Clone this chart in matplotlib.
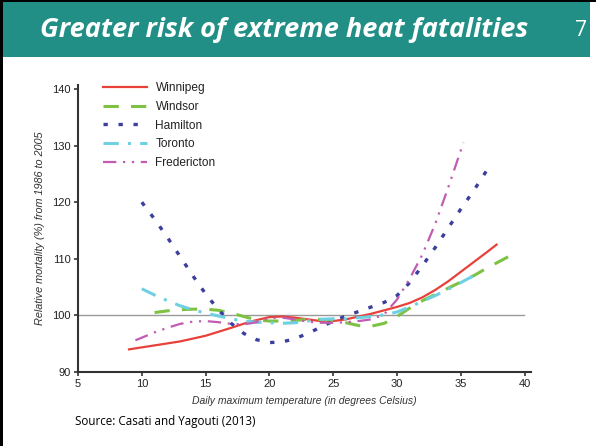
import matplotlib
matplotlib.use("Agg")
import matplotlib.pyplot as plt
from matplotlib.patches import Rectangle

# temperature (deg C) and relative mortality (%)
winnipeg_t = [9, 11, 13, 15, 17, 18.5, 20, 21, 22, 23, 24, 25, 26, 27, 28, 29, 30, 31, 32, 33, 34, 35, 36, 37, 37.8]
winnipeg_v = [94.0, 94.7, 95.4, 96.4, 97.8, 98.9, 99.7, 99.8, 99.6, 99.3, 99.0, 99.0, 99.3, 99.8, 100.3, 100.9, 101.5, 102.2, 103.2, 104.5, 106.0, 107.7, 109.4, 111.1, 112.5]

windsor_t = [11, 12, 13, 14, 15, 16, 17, 18, 19, 20, 21, 22, 23, 24, 25, 26, 27, 28, 29, 30, 31, 32, 33, 34, 35, 36, 37, 38, 39]
windsor_v = [100.5, 100.8, 101.0, 101.1, 101.1, 100.9, 100.4, 99.8, 99.2, 99.0, 99.0, 99.1, 99.3, 99.3, 99.1, 98.7, 98.2, 98.1, 98.6, 99.8, 101.3, 102.6, 103.7, 104.8, 105.9, 107.0, 108.3, 109.5, 110.7]

hamilton_t = [10, 11, 12, 13, 14, 15, 16, 17, 18, 19, 20, 21, 22, 23, 24, 25, 26, 27, 28, 29, 30, 31, 32, 33, 34, 35, 36, 37]
hamilton_v = [120.0, 117.0, 113.8, 110.4, 107.0, 103.8, 101.0, 98.6, 96.8, 95.7, 95.2, 95.3, 95.9, 96.8, 97.9, 99.0, 99.9, 100.7, 101.5, 102.3, 103.5, 105.8, 108.8, 112.0, 115.4, 118.8, 122.0, 125.5]

toronto_t = [10, 11, 12, 13, 14, 15, 16, 17, 18, 19, 20, 21, 22, 23, 24, 25, 26, 27, 28, 29, 30, 31, 32, 33, 34, 35, 36]
toronto_v = [104.7, 103.6, 102.6, 101.7, 101.0, 100.4, 99.9, 99.4, 99.0, 98.8, 98.7, 98.6, 98.7, 99.0, 99.3, 99.4, 99.4, 99.6, 99.8, 100.1, 100.6, 101.5, 102.5, 103.5, 104.6, 105.8, 107.0]

fred_t = [9.5, 11, 12, 13, 14, 15, 16, 17, 18, 19, 20, 21, 22, 23, 24, 25, 26, 27, 28, 29, 30, 31, 32, 33, 34, 35.2]
fred_v = [95.6, 97.0, 97.8, 98.5, 98.9, 99.0, 98.8, 98.5, 98.4, 98.8, 99.5, 99.6, 99.3, 98.9, 98.7, 98.7, 98.8, 99.0, 99.3, 100.2, 102.8, 106.5, 110.8, 116.2, 122.5, 130.5]

xticks = [5, 10, 15, 20, 25, 30, 35, 40]
yticks = [90, 100, 110, 120, 130, 140]

W, H = 596, 446
fig = plt.figure(figsize=(W / 100, H / 100), dpi=100)
fig.patch.set_facecolor("white")

# slide header + border
fig.add_artist(Rectangle((3 / W, 1 - 57 / H), 587 / W, 55 / H, transform=fig.transFigure,
                         facecolor="#218f85", edgecolor="none"))
fig.add_artist(Rectangle((0, 0), 3 / W, 1, transform=fig.transFigure, facecolor="black", edgecolor="none"))
fig.add_artist(Rectangle((0, 1 - 2 / H), 1, 2 / H, transform=fig.transFigure, facecolor="black", edgecolor="none"))

fig.text(284 / W, 1 - 30 / H, "Greater risk of extreme heat fatalities", color="white",
         fontsize=19.5, fontweight="bold", fontstyle="italic", family="Open Sans",
         ha="center", va="center")
fig.text(581 / W, 1 - 30 / H, "7", color="white", fontsize=15, family="Open Sans",
         ha="center", va="center")
fig.text(75 / W, 1 - 421 / H, "Source: Casati and Yagouti (2013)", fontsize=8.4,
         family="Open Sans", ha="left", va="center", color="black")

ax = fig.add_axes([78 / W, 74 / H, 453 / W, 287 / H])
ax.set_xlim(5, 40.5)
ax.set_ylim(90, 140.7)

ax.axhline(100, color="#999999", lw=1, xmax=0.985, zorder=1)

ax.plot(winnipeg_t, winnipeg_v, color="#e8413a", lw=1.6, label="Winnipeg", zorder=3)
ax.plot(windsor_t, windsor_v, color="#7dc242", lw=2.2, dashes=(5, 4), label="Windsor", zorder=3)
ax.plot(hamilton_t, hamilton_v, color="#3c3f9c", lw=2.4, dashes=(1.3, 3.2), label="Hamilton", zorder=3)
ax.plot(toronto_t, toronto_v, color="#6fd0e2", lw=2.2, dashes=(5, 3, 1, 3), label="Toronto", zorder=3)
ax.plot(fred_t, fred_v, color="#c25bb2", lw=1.6, dashes=(6, 3, 1, 3, 1, 3), label="Fredericton", zorder=3)

for s in ["top", "right"]:
    ax.spines[s].set_visible(False)
for s in ["left", "bottom"]:
    ax.spines[s].set_color("#333333")
    ax.spines[s].set_linewidth(1.5)

ax.set_xticks(xticks)
ax.set_yticks(yticks)
ax.tick_params(direction="out", length=3, width=1.2, color="#333333",
               labelsize=8, labelcolor="#222222", pad=2)
for lab in ax.get_xticklabels() + ax.get_yticklabels():
    lab.set_family("Liberation Sans")

ax.set_xlabel("Daily maximum temperature (in degrees Celsius)", fontsize=7.5, style="italic",
              family="Liberation Sans", color="#333333", labelpad=5)
ax.set_ylabel("Relative mortality (%) from 1986 to 2005", fontsize=7.8, style="italic",
              family="Liberation Sans", color="#333333", labelpad=5)

leg = ax.legend(loc="upper left", bbox_to_anchor=(0.055, 1.01), frameon=False,
                handlelength=3.7, handletextpad=0.7, labelspacing=0.56,
                borderpad=0, borderaxespad=0, prop={"family": "Liberation Sans", "size": 8.6})
for t in leg.get_texts():
    t.set_color("#222222")

fig.savefig("out.png", dpi=100)
